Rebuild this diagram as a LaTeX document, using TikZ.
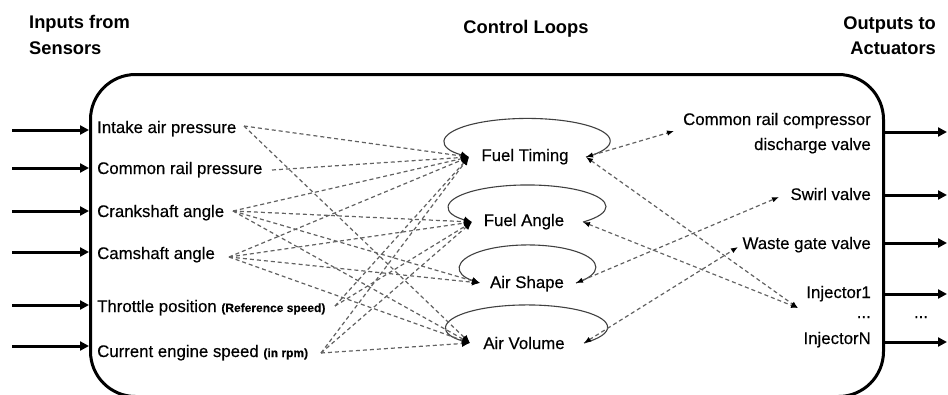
\documentclass[tikz,border=0pt]{standalone}
\usepackage{fontspec}
\setmainfont{Liberation Sans}
\newfontfamily\labelfont[FakeBold=0.35]{Liberation Sans}
\usetikzlibrary{arrows.meta}
\newcommand{\parennote}{\fontsize{12}{14}\selectfont\bfseries}
\begin{document}
\begin{tikzpicture}[x=1pt,y=1pt,
  lbl/.style={inner sep=0pt, font=\labelfont\fontsize{16.8}{20}\selectfont},
  heading/.style={inner sep=0pt, font=\fontsize{18.3}{22}\selectfont\bfseries},
  bus/.style={line width=3pt, -{Triangle[length=9pt,width=9pt]}},
  link/.style={draw=black!62, line width=1.2pt, dash pattern=on 4pt off 3pt,
    -{Latex[length=8pt,width=7pt,color=black]}},
  duplex/.style={draw=black!62, line width=1.2pt, dash pattern=on 4pt off 3pt,
    {Latex[length=7pt,width=5.5pt,color=black]}-{Latex[length=7pt,width=5.5pt,color=black]}},
  feedback/.style={draw=black!75, line width=1.1pt, -{Latex[length=8pt,width=7pt,color=black]}}
]
\useasboundingbox (0,0) rectangle (948,-394);

% controller outline
\node[draw, line width=3pt, rounded corners=45pt, minimum width=793pt,
  minimum height=322pt, inner sep=0pt, anchor=north west] (ecu) at (89,-73) {};

% headings
\node[heading, anchor=base west] (inA) at (29,-28) {Inputs from};
\node[heading, anchor=base west] (inB) at (29,-54) {Sensors};
\node[heading, anchor=base] (loops) at (526,-33) {Control Loops};
\node[heading, anchor=base east] (outA) at (936,-29) {Outputs to};
\node[heading, anchor=base east] (outB) at (936,-54) {Actuators};

% sensor inputs
\node[lbl, anchor=base west] (ia)  at (97,-133) {Intake air pressure};
\node[lbl, anchor=base west] (crp) at (97,-174) {Common rail pressure};
\node[lbl, anchor=base west] (ca)  at (97,-217) {Crankshaft angle};
\node[lbl, anchor=base west] (cam) at (97,-259) {Camshaft angle};
\node[lbl, anchor=base west] (tp)  at (97,-312) {Throttle position {\parennote (Reference speed)}};
\node[lbl, anchor=base west] (ces) at (97,-357) {Current engine speed {\parennote (in rpm)}};

% control loops
\node[lbl, anchor=base] (ft) at (525,-161) {Fuel Timing};
\node[lbl, anchor=base] (fa) at (524,-226) {Fuel Angle};
\node[lbl, anchor=base] (as) at (527,-288) {Air Shape};
\node[lbl, anchor=base] (av) at (524,-349) {Air Volume};

% actuator outputs
\node[lbl, anchor=base east] (crc)  at (871,-125) {Common rail compressor};
\node[lbl, anchor=base east] (crc2) at (871,-150) {discharge valve};
\node[lbl, anchor=base east] (sw)   at (871,-200) {Swirl valve};
\node[lbl, anchor=base east] (wg)   at (871,-249) {Waste gate valve};
\node[lbl, anchor=base east] (inj1) at (871,-298) {Injector1};
\node[lbl, anchor=base east] (injd) at (871,-318) {...};
\node[lbl, anchor=base east] (injn) at (871,-344) {InjectorN};
\node[lbl, anchor=base] (outd) at (921,-318) {...};

% input and output buses
\foreach \y [count=\i] in {130,168,211,252,305,346} {
  \coordinate (feed\i) at (12,-\y);
  \draw[bus] (feed\i) -- (feed\i -| ecu.west);
}
\foreach \y [count=\i] in {132,195,243,294,342} {
  \coordinate (drive\i) at (947,-\y);
  \draw[bus] (drive\i -| ecu.east) -- (drive\i);
}

% connector ends
\coordinate (iaS)  at (244,-126);
\coordinate (crpS) at (272,-170);
\coordinate (caS)  at (233,-211);
\coordinate (camS) at (229,-257);
\coordinate (tpS)  at (335,-306);
\coordinate (cesS) at (321,-353);

\coordinate (ftin)  at (469,-157);
\coordinate (ftout) at (586,-157);
\coordinate (fain)  at (472,-222);
\coordinate (faout) at (583,-222);
\coordinate (asin)  at (480,-283);
\coordinate (asout) at (576,-283);
\coordinate (avin)  at (470,-343);
\coordinate (avout) at (584,-343);

\coordinate (crcT)  at (674,-131);
\coordinate (swT)   at (779,-197);
\coordinate (wgT)   at (738,-247);
\coordinate (injT)  at (798,-308);

% feedback loops
\draw[feedback] (ftout) arc[start angle=-45, end angle=225, x radius=82.7pt, y radius=22.6pt];
\draw[feedback] (faout) arc[start angle=-45, end angle=225, x radius=78.5pt, y radius=21.7pt];
\draw[feedback] (asout) arc[start angle=-45, end angle=225, x radius=67.9pt, y radius=22.3pt];
\draw[feedback] (avout) arc[start angle=-45, end angle=225, x radius=80.6pt, y radius=22.3pt];

% sensor to loop links
\draw[link] (iaS) -- (ftin);
\draw[link] (iaS) -- (avin);
\draw[link] (crpS) -- (ftin);
\foreach \t in {ftin,fain,asin,avin} {
  \draw[link] (caS) -- (\t);
  \draw[link] (camS) -- (\t);
}
\draw[link] (tpS) -- (ftin);
\draw[link] (tpS) -- (fain);
\draw[link] (cesS) -- (ftin);
\draw[link] (cesS) -- (fain);
\draw[link] (cesS) -- (avin);

% loop to actuator links
\draw[duplex] (ftout) -- (crcT);
\draw[duplex] (ftout) -- (injT);
\draw[duplex] (faout) -- (injT);
\draw[duplex] (asout) -- (swT);
\draw[duplex] (avout) -- (wgT);
\end{tikzpicture}
\end{document}
